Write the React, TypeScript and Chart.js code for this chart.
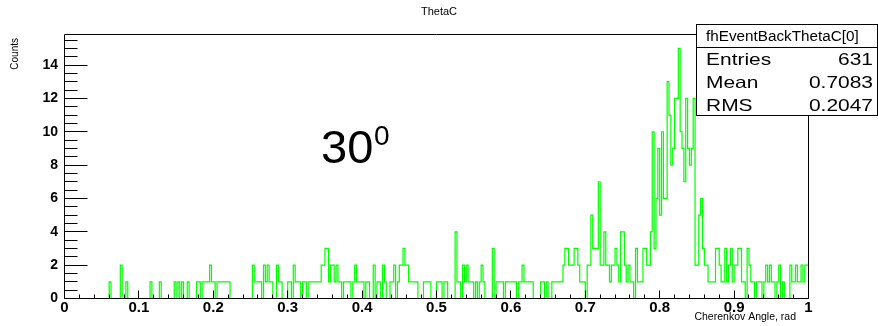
import React, { useEffect, useRef } from "react";
import { Chart, registerables } from "chart.js";

Chart.register(...registerables);

const FONT = "'Liberation Sans', Arial, Helvetica, sans-serif";

// Histogram: 400 bins from 0 to 1
const N_BINS = 400;
const X_MIN = 0;
const X_MAX = 1;
const Y_MAX = 15.83;

const counts: number[] = [
  // 0-39
  0,0,0,0,0,0,0,0,0,0, 0,0,0,0,0,0,0,0,0,0, 0,0,0,0,0,1,0,0,0,0, 0,2,0,0,1,0,0,0,0,0,
  // 40-79
  0,0,0,0,0,0,0,1,0,0, 0,0,1,0,0,0,0,0,0,0, 1,0,1,0,1,0,0,1,0,0, 0,0,1,1,0,1,1,1,1,2,
  // 80-119
  1,1,0,1,1,1,1,1,1,1, 0,0,0,0,0,0,0,0,0,0, 0,0,2,1,1,1,1,0,2,1, 2,1,1,0,0,2,1,1,0,0,
  // 120-159
  0,1,1,0,2,1,1,1,0,1, 1,0,1,1,1,1,1,1,1,2, 2,3,3,1,2,2,1,2,1,1, 0,1,1,1,1,0,1,2,1,1,
  // 160-199
  1,1,0,1,1,0,0,2,0,1, 1,0,2,1,0,0,1,1,2,0, 1,2,2,3,2,2,1,1,1,1, 1,0,0,0,1,1,1,1,0,0,
  // 200-239
  0,1,1,1,0,1,1,0,0,0, 0,4,1,1,0,2,1,2,1,1, 1,0,1,0,1,2,1,0,0,0, 0,3,0,1,1,1,1,0,1,1,
  // 240-279
  1,1,1,1,0,1,1,2,1,1, 1,1,1,0,0,0,0,1,1,0, 1,0,0,1,1,1,1,1,1,2, 3,3,2,2,2,3,3,2,1,1,
  // 280-319
  1,0,2,2,5,3,3,3,7,2, 2,4,2,2,1,2,2,3,2,1, 4,4,2,1,2,1,1,0,3,1, 1,1,3,3,2,2,4,10,3,6,
  // 320-359
  9,5,10,6,6,13,11,8,9,12, 12,15,10,9,7,12,9,8,9,12, 2,2,5,6,3,2,2,1,1,1, 1,3,3,2,1,1,3,1,2,3,
  // 360-399
  1,2,2,3,3,1,1,0,3,2, 1,1,0,1,1,1,0,1,2,1, 2,1,1,0,1,2,0,1,0,0, 0,2,1,1,2,1,1,2,1,2,
];

const xTickValues = [0, 0.1, 0.2, 0.3, 0.4, 0.5, 0.6, 0.7, 0.8, 0.9, 1];
const xTickLabels = ["0", "0.1", "0.2", "0.3", "0.4", "0.5", "0.6", "0.7", "0.8", "0.9", "1"];
const yTickValues = [0, 2, 4, 6, 8, 10, 12, 14];
const yTickLabels = ["0", "2", "4", "6", "8", "10", "12", "14"];

const chartTitle = "ThetaC";
const xTitle = "Cherenkov Angle, rad";
const yTitle = "Counts";
const statsTitle = "fhEventBackThetaC[0]";
const statsNames = ["Entries", "Mean", "RMS"];
const statsValues = ["631", "0.7083", "0.2047"];
const noteMain = "30";
const noteSup = "0";

function stretchedText(ctx: any, text: string, x: number, y: number, sx: number, align: string) {
  ctx.save();
  ctx.translate(x, y);
  ctx.scale(sx, 1);
  ctx.textAlign = align;
  ctx.fillText(text, 0, 0);
  ctx.restore();
}

const rootPlugin = {
  id: "rootDecor",
  afterDatasetsDraw(chart: any) {
    const { ctx, chartArea: a, scales } = chart;
    const x = scales.x;
    const y = scales.y;
    const snap = (v: number) => Math.round(v - 0.5) + 0.5;
    ctx.save();
    ctx.strokeStyle = "#000";
    ctx.lineWidth = 1;
    // frame
    ctx.beginPath();
    ctx.rect(a.left, a.top, a.right - a.left, a.bottom - a.top);
    ctx.stroke();
    // y ticks (inside, from left axis)
    ctx.beginPath();
    for (let v = 0; v <= Y_MAX + 1e-9; v += 0.5) {
      const py = snap(y.getPixelForValue(v));
      const major = Math.abs(v / 2 - Math.round(v / 2)) < 1e-9;
      const len = major ? 23 : 13;
      ctx.moveTo(a.left, py);
      ctx.lineTo(a.left + len, py);
    }
    // x ticks (inside, from bottom axis)
    for (let k = 0; k <= 50; k++) {
      const v = k * 0.02;
      const px = snap(x.getPixelForValue(v));
      const len = k % 5 === 0 ? 8 : 4;
      ctx.moveTo(px, a.bottom);
      ctx.lineTo(px, a.bottom - len);
    }
    ctx.stroke();
    ctx.restore();
  },
  afterDraw(chart: any) {
    const { ctx, width } = chart;
    ctx.save();
    ctx.fillStyle = "#000";
    ctx.textBaseline = "alphabetic";

    // title
    ctx.font = `11px ${FONT}`;
    ctx.textAlign = "center";
    ctx.fillText(chartTitle, width / 2, 15);

    // x axis title
    ctx.font = `10.5px ${FONT}`;
    ctx.textAlign = "right";
    ctx.fillText(xTitle, 796, 320);

    // y axis title (rotated)
    ctx.save();
    ctx.translate(17.5, 38);
    ctx.rotate(-Math.PI / 2);
    ctx.font = `10px ${FONT}`;
    ctx.textAlign = "right";
    ctx.fillText(yTitle, 0, 0);
    ctx.restore();

    // annotation 30^0
    ctx.textAlign = "left";
    ctx.font = `47px ${FONT}`;
    ctx.fillText(noteMain, 321, 163);
    ctx.font = `28px ${FONT}`;
    ctx.fillText(noteSup, 374, 145);

    // stats box
    const bx = 696.5, by = 24.5, bw = 181, bh = 91;
    ctx.fillStyle = "#fff";
    ctx.fillRect(bx, by, bw, bh);
    ctx.strokeStyle = "#000";
    ctx.lineWidth = 1;
    ctx.strokeRect(bx, by, bw, bh);
    ctx.beginPath();
    ctx.moveTo(bx, 47.5);
    ctx.lineTo(bx + bw, 47.5);
    ctx.stroke();
    ctx.fillStyle = "#000";
    ctx.font = `14px ${FONT}`;
    stretchedText(ctx, statsTitle, 706, 41, 1.09, "left");
    ctx.font = `16.5px ${FONT}`;
    const rows = [65, 88, 111];
    statsNames.forEach((n, i) => {
      stretchedText(ctx, n, 706, rows[i], 1.27, "left");
      stretchedText(ctx, statsValues[i], 873, rows[i], 1.27, "right");
    });
    ctx.restore();
  },
};

export default function App() {
  const ref = useRef<HTMLCanvasElement | null>(null);

  useEffect(() => {
    if (!ref.current) return;
    const binW = (X_MAX - X_MIN) / N_BINS;
    const pts = counts.map((c, i) => ({ x: X_MIN + i * binW, y: c }));
    pts.push({ x: X_MAX, y: counts[counts.length - 1] });

    const chart = new Chart(ref.current, {
      type: "line",
      data: {
        datasets: [
          {
            data: pts,
            borderColor: "#00ff00",
            borderWidth: 1.2,
            pointRadius: 0,
            stepped: "after",
            fill: false,
            tension: 0,
          },
        ],
      },
      options: {
        responsive: false,
        animation: false,
        events: [],
        layout: { padding: { left: 0.5, top: 34.5, right: 69.5, bottom: 0 } },
        plugins: { legend: { display: false }, title: { display: false }, tooltip: { enabled: false } },
        scales: {
          x: {
            type: "linear",
            min: X_MIN,
            max: X_MAX,
            afterFit: (s: any) => {
              s.height = 27.5;
            },
            afterBuildTicks: (s: any) => {
              s.ticks = xTickValues.map((v) => ({ value: v }));
            },
            grid: { display: false, drawTicks: false },
            border: { display: false },
            ticks: {
              autoSkip: false,
              maxRotation: 0,
              padding: 0,
              color: "#000",
              font: { family: FONT, size: 15, weight: "bold" },
              callback: (v: any) => {
                const idx = xTickValues.findIndex((t) => Math.abs(t - v) < 1e-9);
                return idx >= 0 ? xTickLabels[idx] : "";
              },
            },
          },
          y: {
            type: "linear",
            min: 0,
            max: Y_MAX,
            afterFit: (s: any) => {
              s.width = 64;
            },
            afterBuildTicks: (s: any) => {
              s.ticks = yTickValues.map((v) => ({ value: v }));
            },
            grid: { display: false, drawTicks: false },
            border: { display: false },
            ticks: {
              autoSkip: false,
              padding: 6.5,
              color: "#000",
              font: { family: FONT, size: 14, weight: "bold" },
              callback: (v: any) => {
                const idx = yTickValues.findIndex((t) => Math.abs(t - v) < 1e-9);
                return idx >= 0 ? yTickLabels[idx] : "";
              },
            },
          },
        },
      },
      plugins: [rootPlugin],
    } as any);

    return () => chart.destroy();
  }, []);

  return (
    <div style={{ position: "absolute", left: 0, top: 0, width: 878, height: 326, background: "#fff" }}>
      <canvas ref={ref} width={878} height={326} style={{ display: "block", width: 878, height: 326 }} />
    </div>
  );
}
